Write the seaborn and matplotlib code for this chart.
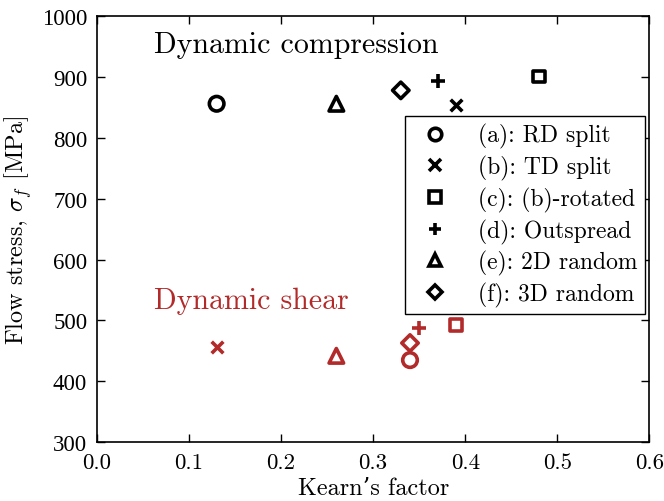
import matplotlib
matplotlib.use("Agg")
import matplotlib.pyplot as plt
import seaborn as sns
import pandas as pd
from matplotlib.lines import Line2D

labels = ["(a): RD split", "(b): TD split", "(c): (b)-rotated",
          "(d): Outspread", "(e): 2D random", "(f): 3D random"]
markers = ["o", "x", "s", "+", "^", "D"]
comp_k = [0.13, 0.39, 0.48, 0.37, 0.26, 0.33]
comp_s = [856, 854, 901, 893, 856, 878]
shear_k = [0.34, 0.13, 0.39, 0.35, 0.26, 0.34]
shear_s = [435, 457, 493, 487, 442, 463]

sns.set_theme(style="ticks")
plt.rcParams["font.family"] = ["cmr10", "DejaVu Serif"]
plt.rcParams["mathtext.fontset"] = "cm"
plt.rcParams["axes.formatter.use_mathtext"] = True
plt.rcParams["axes.unicode_minus"] = False
plt.rcParams["text.color"] = "black"
plt.rcParams["axes.labelcolor"] = "black"
plt.rcParams["xtick.color"] = "black"
plt.rcParams["ytick.color"] = "black"

red = "#b22a2a"
df_c = pd.DataFrame({"k": comp_k, "s": comp_s, "lab": labels})
df_s = pd.DataFrame({"k": shear_k, "s": shear_s, "lab": labels})

fig, ax = plt.subplots(figsize=(6.64, 5.02), dpi=100)
sizes = {"o": 110, "x": 70, "s": 70, "+": 90, "^": 110, "D": 70}
for i, m in enumerate(markers):
    for df, col in ((df_c, "black"), (df_s, red)):
        sub = df.iloc[[i]]
        if m in ("x", "+"):
            sns.scatterplot(data=sub, x="k", y="s", marker=m, s=sizes[m],
                            color=col, linewidth=2.6, ax=ax, legend=False)
        else:
            sns.scatterplot(data=sub, x="k", y="s", marker=m, s=sizes[m],
                            facecolor="none", edgecolor=col, linewidth=2.6,
                            ax=ax, legend=False)

ax.set_xlim(0, 0.6)
ax.set_ylim(300, 1000)
ax.set_xticks([0.0, 0.1, 0.2, 0.3, 0.4, 0.5, 0.6])
ax.set_xticklabels(["0.0", "0.1", "0.2", "0.3", "0.4", "0.5", "0.6"])
yt = list(range(300, 1001, 100))
ax.set_yticks(yt)
ax.set_yticklabels([str(v) for v in yt], family=["Liberation Serif", "DejaVu Serif"],
                   fontsize=16.5)
ax.tick_params(direction="in", top=True, right=True, length=6, width=1,
               colors="black")
ax.tick_params(axis="x", pad=7, labelsize=16.5)
ax.tick_params(axis="y", pad=7)
for sp in ax.spines.values():
    sp.set_linewidth(1.2)
    sp.set_color("black")
ax.set_xlabel("Kearn\u2019s factor", fontsize=17.5, labelpad=4)
ax.set_ylabel(r"Flow stress, $\sigma_f$ [MPa]", fontsize=17.5, labelpad=6)

ax.text(0.062, 954, "Dynamic compression", fontsize=21.5, color="black",
        va="center")
ax.text(0.062, 534, "Dynamic shear", fontsize=21.5, color=red, va="center")

handles = []
for m, lab in zip(markers, labels):
    if m in ("x", "+"):
        h = Line2D([], [], linestyle="none", marker=m, color="black",
                   markersize=9, markeredgewidth=2.6)
    else:
        h = Line2D([], [], linestyle="none", marker=m, markerfacecolor="none",
                   markeredgecolor="black", markersize=9 if m != "D" else 7.5,
                   markeredgewidth=2.6)
    handles.append(h)
leg = ax.legend(handles, labels, loc="upper right", bbox_to_anchor=(0.992, 0.765),
                fontsize=17, frameon=True, fancybox=False, edgecolor="black",
                framealpha=1, handletextpad=0.9, borderpad=0.3, labelspacing=0.28,
                handlelength=1.9, borderaxespad=0)
leg.get_frame().set_linewidth(1.0)
for t in leg.get_texts():
    t.set_color("black")

fig.subplots_adjust(left=0.146, right=0.978, bottom=0.117, top=0.966)
fig.savefig("out.png", dpi=100)
